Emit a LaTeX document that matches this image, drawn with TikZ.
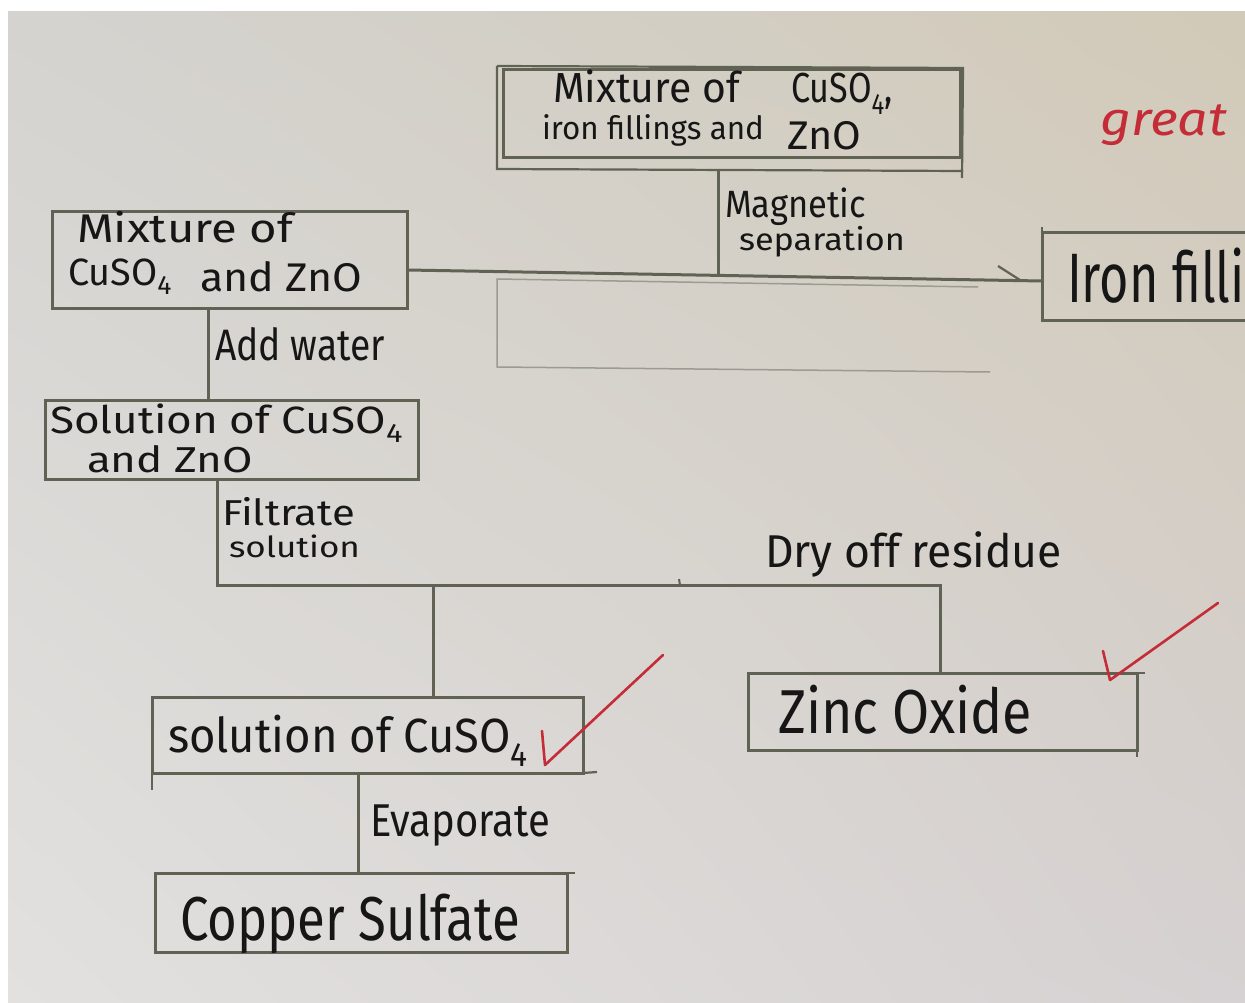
\documentclass[tikz,border=0pt]{standalone}
\usepackage{fontspec}
\setmainfont{Fira Sans}
\usepackage{graphicx}
\usetikzlibrary{shadings}
\definecolor{paperUL}{RGB}{212,211,208}
\definecolor{paperUR}{RGB}{210,202,184}
\definecolor{paperLL}{RGB}{226,225,223}
\definecolor{paperLR}{RGB}{214,209,210}
\definecolor{boxc}{RGB}{96,98,84}
\definecolor{ink}{RGB}{22,22,22}
\definecolor{redpen}{RGB}{196,44,56}
\definecolor{pencil}{RGB}{155,155,145}
\newcommand\fitw[2]{\resizebox{#1pt}{\height}{#2}}
\tikzset{
 pbox/.style={draw=boxc, line width=3pt, inner sep=0pt, outer sep=0pt},
 conn/.style={draw=boxc, line width=3pt},
 extra/.style={draw=boxc, line width=2.2pt},
 faint/.style={draw=pencil, line width=1.5pt},
 hw/.style={anchor=base west, inner sep=0pt, outer sep=0pt, text=ink},
 fsz/.style={font=\fontsize{#1pt}{#1pt}\selectfont},
 redtick/.style={draw=redpen, line width=2.6pt, line cap=round, line join=round},
}
\begin{document}
\begin{tikzpicture}[x=1pt,y=-1pt]
\useasboundingbox (0,0) rectangle (1245,1003);
\fill[white] (0,0) rectangle (1245,1003);
\begin{scope}
\clip (0,0) rectangle (1245,1003);
\shade[upper left=paperUL, upper right=paperUR, lower left=paperLL, lower right=paperLR] (8,12) rectangle (1245,1003);

% ---- boxes
\node[pbox, minimum width=457pt, minimum height=88pt] (b1) at (731.5,114) {};
\node[pbox, minimum width=355pt, minimum height=96pt] (b2) at (229.5,260) {};
\node[pbox, minimum width=373pt, minimum height=79pt] (b3) at (231.5,439.5) {};
\node[pbox, minimum width=400pt, minimum height=87pt] (iron) at (1242,276.5) {};
\node[pbox, minimum width=389pt, minimum height=77pt] (zn) at (942.5,711.5) {};
\node[pbox, minimum width=431pt, minimum height=76pt] (b4) at (367.5,735) {};
\node[pbox, minimum width=412pt, minimum height=79pt] (b5) at (361,912.5) {};

% ---- hand-drawn extra strokes on boxes
\coordinate (e1a) at (497,66); \coordinate (e1b) at (963,68);
\coordinate (e1c) at (497,169); \coordinate (e1d) at (963,171);
\coordinate (e1e) at (962,178);
\draw[extra] (e1a) -- (e1b) -- (e1e);
\draw[extra] (e1a) -- (e1c) -- (e1d);
\coordinate (e2a) at (1042,227);
\draw[extra] (e2a) -- (iron.north west);
\coordinate (e4a) at (152,790); \coordinate (e4b) at (597,772);
\draw[extra] (b4.south west) -- (e4a);
\draw[extra] (b4.south east) -- (e4b);
\coordinate (e5a) at (575,873);
\draw[extra] (b5.north east) -- (e5a);
\coordinate (e6a) at (1137,757); \coordinate (e6b) at (1145,673);
\draw[extra] (zn.south east) -- (e6a);
\draw[extra] (zn.north east) -- (e6b);

% ---- faint pencil lines
\coordinate (p1) at (497,279); \coordinate (p2) at (978,287);
\coordinate (p3) at (497,367); \coordinate (p4) at (990,372);
\draw[faint] (p2) -- (p1) -- (p3) -- (p4);

% ---- connectors
\coordinate (j1) at (718,276);
\coordinate (jL) at (408,270);
\coordinate (jR) at (1043,281);
\draw[conn] (e1c -| j1) -- (j1);
\draw[conn] (b2.east |- jL) -- (iron.west |- jR);
\coordinate (tk1) at (998,266); \coordinate (tk2) at (1020,280);
\draw[conn, line width=2.2pt] (tk1) -- (tk2);

\coordinate (k208) at (208,0);
\draw[conn] (b2.south -| k208) -- (b3.north -| k208);

\coordinate (f217) at (217,585);
\coordinate (f433) at (433,585);
\coordinate (f940) at (940,585);
\draw[conn] (b3.south -| f217) -- (f217) -- (f940) -- (zn.north -| f940);
\draw[conn] (f433) -- (b4.north -| f433);
\coordinate (sm1) at (679,579); \coordinate (sm2) at (680,585);
\draw[conn, line width=2pt] (sm1) -- (sm2);

\coordinate (e358) at (358,0);
\draw[conn] (b4.south -| e358) -- (b5.north -| e358);

% ---- texts
\node[hw,fsz=42] (t1a) at (553,103) {\fitw{187}{Mixture of}};
\node[hw,fsz=42] (t1b) at (791,103) {\fitw{102}{CuSO\textsubscript{4},}};
\node[hw,fsz=32] (t1c) at (542,140) {\fitw{222}{iron fillings and}};
\node[hw,fsz=40] (t1d) at (787,150) {\fitw{74}{ZnO}};
\node[hw,fsz=40] (t2a) at (77,243) {\fitw{216}{Mixture of}};
\node[hw,fsz=38] (t2b) at (68,285) {\fitw{104}{CuSO\textsubscript{4}}};
\node[hw,fsz=40] (t2c) at (200,291) {\fitw{162}{and ZnO}};
\node[hw,fsz=44] (l1) at (215,360) {\fitw{170}{Add water}};
\node[hw,fsz=38] (t3a) at (50,433) {\fitw{353}{Solution of CuSO\textsubscript{4}}};
\node[hw,fsz=36] (t3b) at (87,472) {\fitw{166}{and ZnO}};
\node[hw,fsz=36] (l2a) at (222,525) {\fitw{133}{Filtrate}};
\node[hw,fsz=29] (l2b) at (229,557) {\fitw{131}{solution}};
\node[hw,fsz=46] (l3) at (765,567) {\fitw{297}{Dry off residue}};
\node[hw,fsz=48] (t4) at (168,752) {\fitw{360}{solution of CuSO\textsubscript{4}}};
\node[hw,fsz=46] (l4) at (370,836) {\fitw{180}{Evaporate}};
\node[hw,fsz=62] (t5) at (180,940) {\fitw{340}{Copper Sulfate}};
\node[hw,fsz=62] (t6) at (778,733) {\fitw{254}{Zinc Oxide}};
\node[hw,fsz=70] (t7) at (1067,302) {\scalebox{0.72}[1]{Iron fillings}};
\node[hw,fsz=38] (l5a) at (725,218) {\fitw{141}{Magnetic}};
\node[hw,fsz=31] (l5b) at (739,251) {\fitw{166}{separation}};
\node[hw,fsz=47,text=redpen] (gr) at (1100,136) {\fitw{127}{\itshape great}};

% ---- red check marks
\coordinate (c1a) at (542,731); \coordinate (c1b) at (545,765); \coordinate (c1c) at (663,655);
\draw[redtick] (c1a) -- (c1b) -- (c1c);
\coordinate (c2a) at (1103,651); \coordinate (c2b) at (1110,680); \coordinate (c2c) at (1218,603);
\draw[redtick] (c2a) -- (c2b) -- (c2c);
\end{scope}
\end{tikzpicture}
\end{document}
